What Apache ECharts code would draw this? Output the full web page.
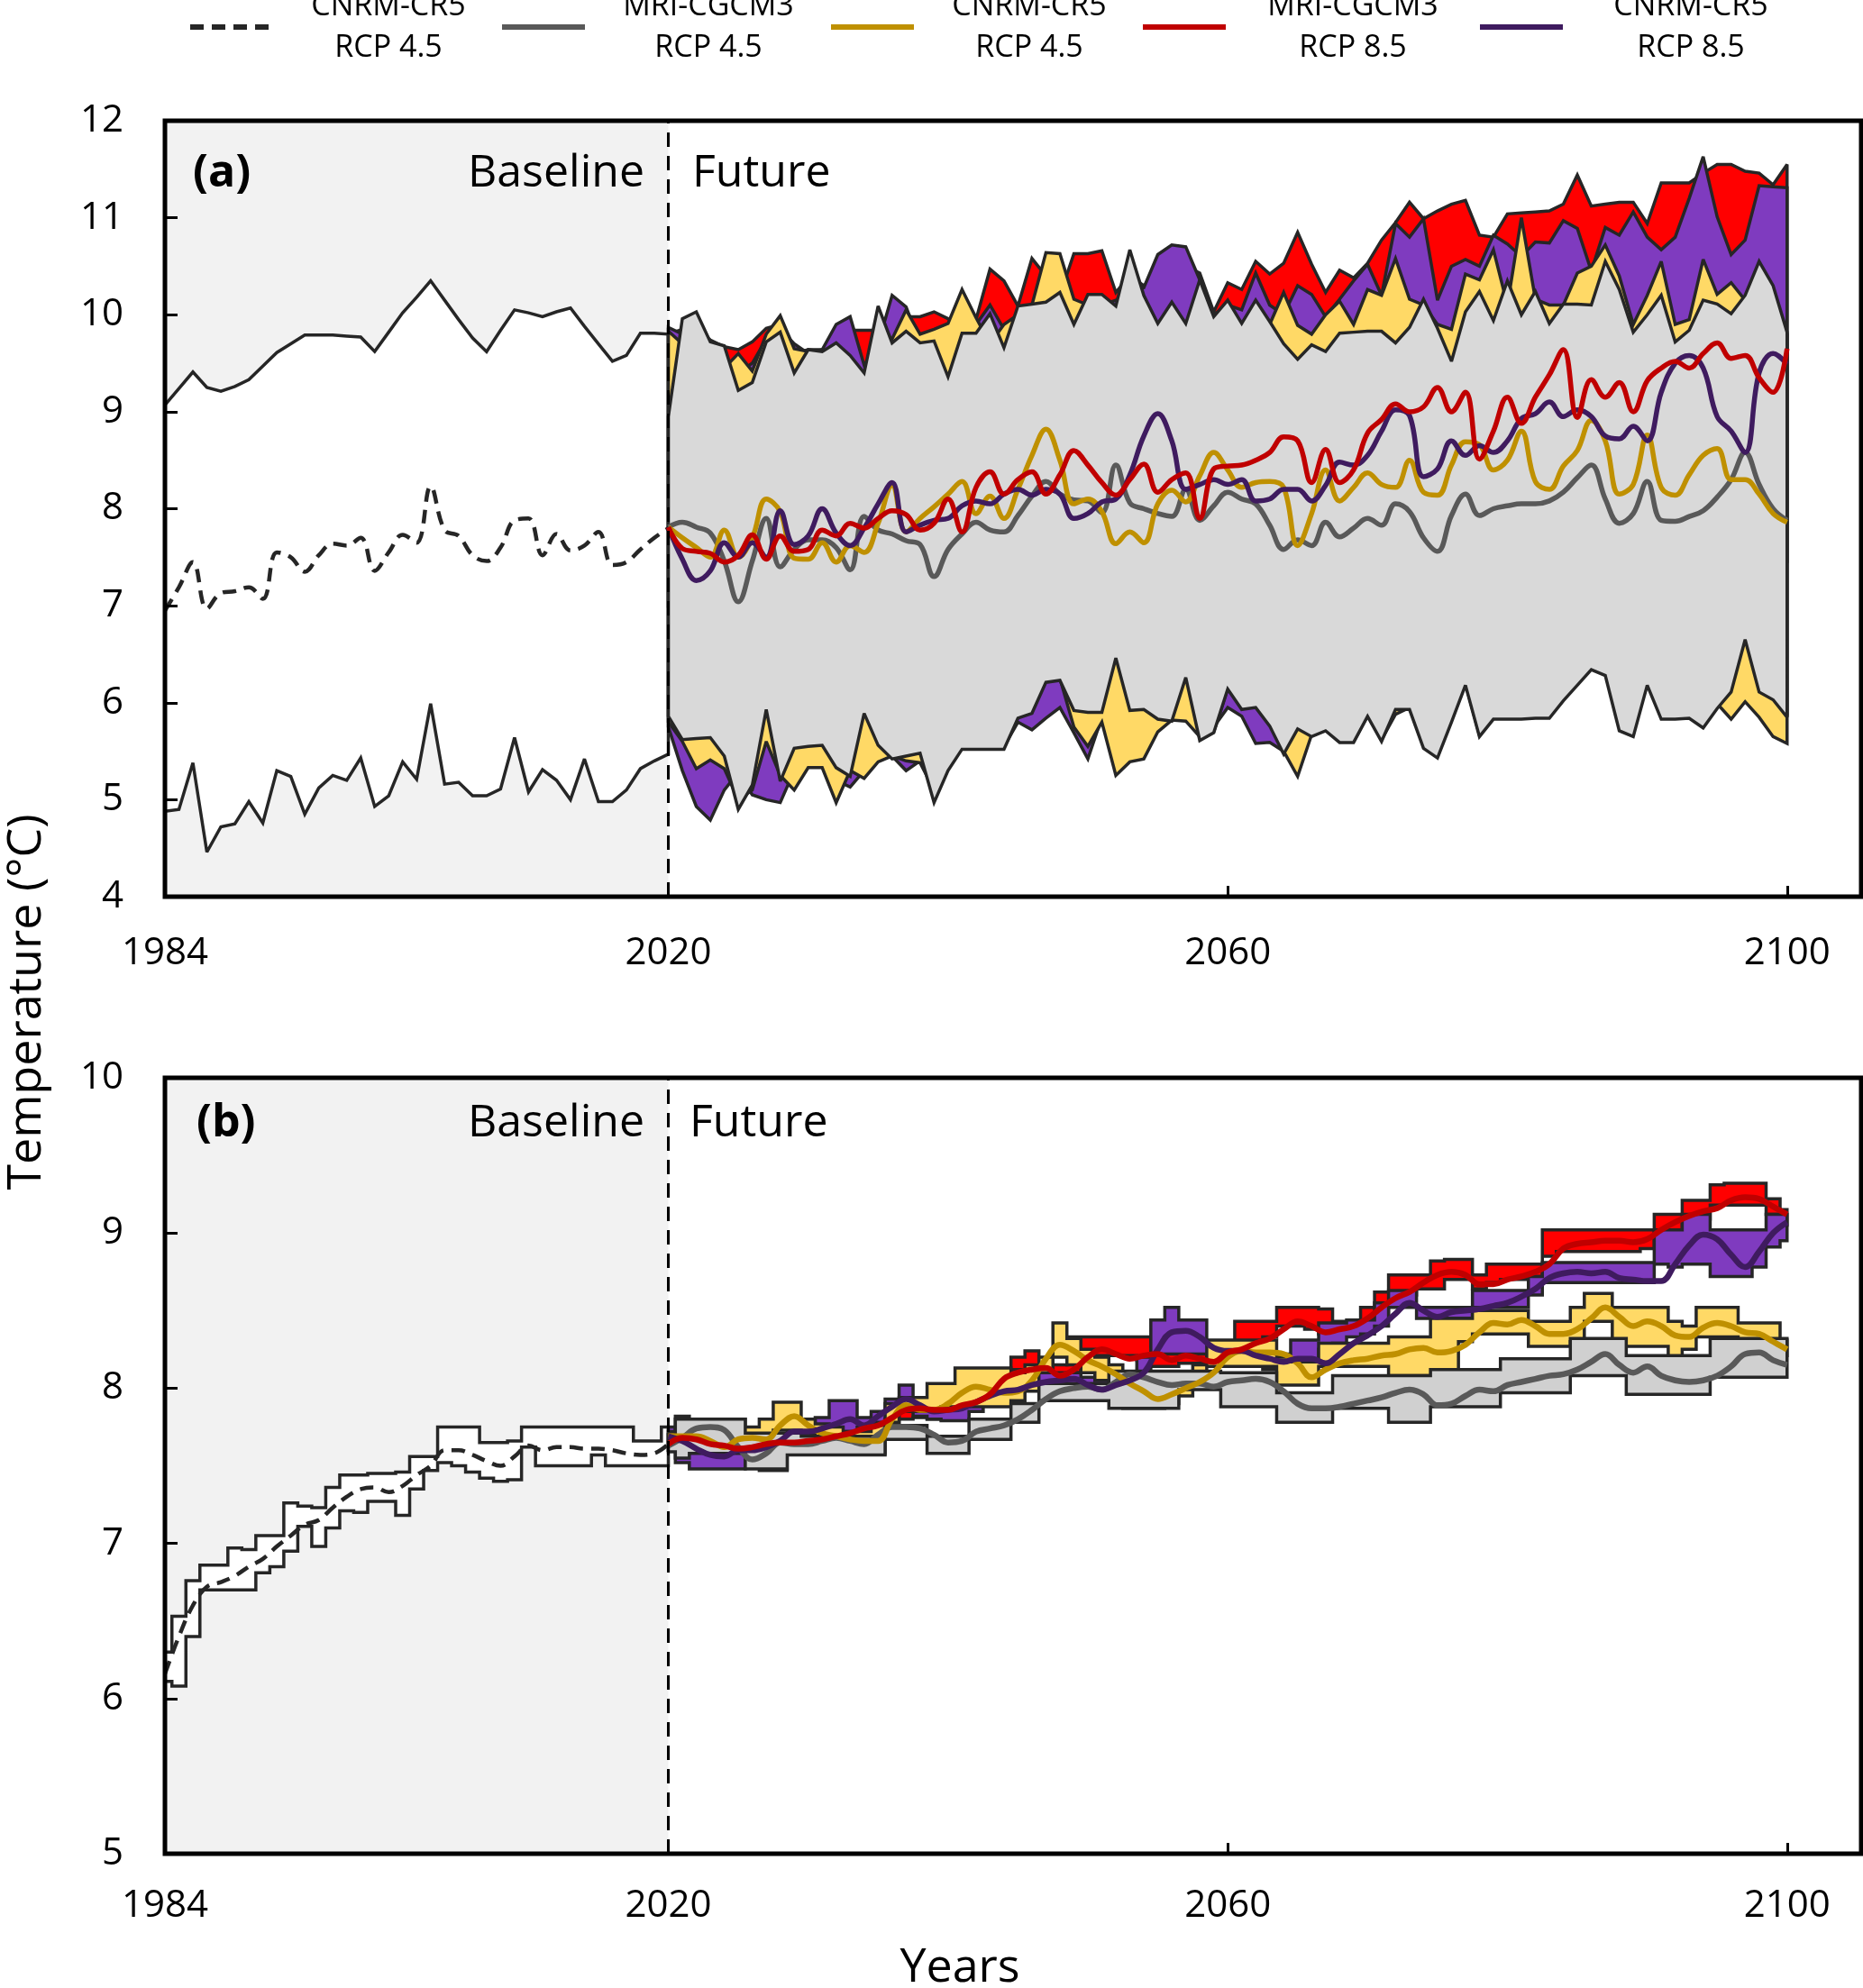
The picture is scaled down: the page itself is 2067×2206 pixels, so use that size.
<!DOCTYPE html>
<html>
<head>
<meta charset="utf-8">
<title>Temperature projections</title>
<script src="https://cdn.jsdelivr.net/npm/echarts@6/dist/echarts.min.js"></script>
<style>
  html, body { margin: 0; padding: 0; background: #ffffff; }
  #chart { width: 2067px; height: 2206px; }
</style>
</head>
<body>
<div id="chart"></div>
<script>
// ---- years ----
var baseYears = [];
for (var y = 1984; y <= 2020; y++) baseYears.push(y);
var futYears = [];
for (var y2 = 2020; y2 <= 2100; y2++) futYears.push(y2);
var tickYears = [1984, 2020, 2060, 2100];

// ---- panel (a): annual values ----
var aBaseMax = [9.07, 9.24, 9.41, 9.25, 9.21, 9.26, 9.33, 9.47, 9.61, 9.70,
  9.79, 9.79, 9.79, 9.78, 9.77, 9.62, 9.82, 10.02, 10.18, 10.35,
  10.15, 9.95, 9.76, 9.62, 9.84, 10.05, 10.02, 9.98, 10.03, 10.07,
  9.88, 9.70, 9.52, 9.58, 9.81, 9.81, 9.80];
var aBaseMean = [6.95, 7.19, 7.45, 6.97, 7.13, 7.15, 7.19, 7.07, 7.55, 7.50,
  7.35, 7.52, 7.64, 7.62, 7.70, 7.36, 7.55, 7.73, 7.65, 8.23,
  7.78, 7.72, 7.52, 7.46, 7.60, 7.88, 7.90, 7.52, 7.74, 7.57,
  7.62, 7.76, 7.42, 7.45, 7.58, 7.70, 7.80];
var aBaseMin = [4.88, 4.90, 5.38, 4.46, 4.72, 4.75, 4.98, 4.76, 5.30, 5.24,
  4.85, 5.12, 5.25, 5.20, 5.43, 4.93, 5.04, 5.39, 5.21, 5.99,
  5.16, 5.18, 5.04, 5.04, 5.11, 5.64, 5.08, 5.31, 5.20, 5.00,
  5.42, 4.98, 4.98, 5.10, 5.32, 5.40, 5.47];

var aGrayMax = [8.95, 9.96, 10.03, 9.72, 9.68, 9.22, 9.30, 9.72, 9.82, 9.40,
  9.64, 9.62, 9.71, 9.58, 9.40, 10.09, 9.71, 9.83, 9.71, 9.73,
  9.36, 9.81, 9.81, 10.01, 9.66, 10.09, 10.11, 10.13, 10.23, 9.90,
  10.21, 10.21, 10.09, 10.67, 10.20, 9.91, 10.13, 9.91, 10.36, 9.98,
  10.15, 9.91, 10.15, 9.93, 9.70, 9.54, 9.69, 9.62, 9.81, 9.82,
  9.83, 9.83, 9.71, 9.87, 10.16, 9.86, 9.52, 10.03, 10.24, 9.94,
  10.35, 10.00, 10.24, 9.91, 10.11, 10.11, 10.10, 10.55, 10.26, 9.82,
  10.00, 10.20, 9.72, 9.84, 10.15, 10.11, 10.01, 10.20, 10.55, 10.30,
  9.82];
var aGrayMin = [5.86, 5.62, 5.63, 5.64, 5.45, 4.90, 5.15, 5.93, 5.19, 5.53,
  5.55, 5.56, 5.33, 5.24, 5.89, 5.56, 5.42, 5.45, 5.48, 4.97,
  5.30, 5.52, 5.52, 5.52, 5.52, 5.84, 5.89, 6.21, 6.23, 5.92,
  5.90, 5.90, 6.46, 5.92, 5.93, 5.83, 5.81, 6.26, 5.61, 5.69,
  6.14, 5.93, 5.95, 5.76, 5.47, 5.73, 5.65, 5.71, 5.59, 5.59,
  5.86, 5.60, 5.93, 5.93, 5.53, 5.43, 5.80, 6.18, 5.65, 5.83,
  5.83, 5.83, 5.84, 5.84, 6.02, 6.18, 6.34, 6.28, 5.71, 5.65,
  6.18, 5.83, 5.83, 5.84, 5.74, 5.94, 6.11, 6.65, 6.11, 6.03,
  5.85];
var aGoldMax = [9.83, 9.70, 9.75, 9.55, 9.45, 9.60, 9.42, 9.80, 9.99, 9.65,
  9.62, 9.60, 9.60, 9.50, 9.35, 9.80, 9.75, 10.05, 9.80, 9.85,
  9.91, 10.26, 9.97, 9.70, 9.90, 10.00, 10.10, 10.64, 10.63, 10.16,
  10.10, 10.00, 10.05, 10.20, 10.10, 9.80, 9.90, 9.85, 10.00, 9.90,
  10.00, 9.90, 10.00, 9.90, 10.23, 9.89, 9.80, 10.00, 10.14, 9.90,
  10.26, 10.20, 10.58, 10.16, 10.10, 9.90, 9.85, 10.42, 10.36, 10.67,
  10.10, 11.00, 10.16, 10.10, 10.10, 10.43, 10.50, 10.72, 10.40, 9.90,
  10.20, 10.55, 9.90, 9.95, 10.57, 10.21, 10.33, 10.15, 10.30, 10.20,
  9.80];
var aGoldMin = [5.80, 5.60, 5.32, 5.41, 5.32, 5.00, 5.10, 5.60, 5.25, 5.10,
  5.33, 5.33, 4.97, 5.30, 5.22, 5.39, 5.45, 5.40, 5.38, 5.10,
  5.35, 5.55, 5.55, 5.55, 5.55, 5.85, 5.95, 6.25, 6.25, 5.75,
  5.55, 5.80, 5.25, 5.39, 5.42, 5.70, 5.82, 5.81, 5.65, 5.70,
  6.15, 5.95, 5.97, 5.78, 5.50, 5.24, 5.67, 5.72, 5.62, 5.60,
  5.87, 5.62, 5.88, 5.95, 5.55, 5.45, 5.82, 6.20, 5.67, 5.85,
  5.88, 5.88, 5.89, 5.89, 6.07, 6.23, 6.39, 6.33, 5.76, 5.70,
  6.23, 5.88, 5.88, 5.89, 5.79, 5.99, 5.83, 6.01, 5.85, 5.65,
  5.58];
var aPurpMax = [9.87, 9.80, 9.80, 9.60, 9.50, 9.40, 9.50, 9.75, 9.85, 9.70,
  9.60, 9.64, 9.90, 9.98, 9.48, 9.70, 10.20, 10.08, 9.70, 9.75,
  9.70, 9.80, 9.90, 10.10, 9.85, 9.90, 10.00, 10.10, 10.10, 10.00,
  10.10, 10.10, 10.15, 10.25, 10.28, 10.62, 10.72, 10.70, 10.36, 10.00,
  10.10, 10.05, 10.43, 10.10, 10.00, 10.30, 10.21, 9.98, 10.16, 10.35,
  10.52, 10.20, 10.94, 10.80, 10.99, 10.15, 10.50, 10.57, 10.50, 10.82,
  10.73, 10.60, 10.75, 10.74, 10.97, 10.89, 10.45, 10.90, 10.82, 11.06,
  10.80, 10.67, 10.80, 11.20, 11.63, 11.01, 10.62, 10.77, 11.33, 11.32,
  11.31];
var aPurpMin = [5.75, 5.30, 4.93, 4.79, 5.10, 5.28, 5.05, 5.00, 4.97, 5.30,
  5.40, 5.40, 5.20, 5.13, 5.30, 5.45, 5.45, 5.30, 5.40, 5.10,
  5.35, 5.55, 5.55, 5.55, 5.55, 5.80, 5.72, 5.84, 5.95, 5.69,
  5.42, 5.85, 5.80, 5.80, 5.85, 5.85, 5.85, 6.00, 5.65, 5.75,
  5.95, 5.86, 5.58, 5.59, 5.50, 5.60, 5.67, 5.75, 5.62, 5.60,
  5.87, 5.62, 5.90, 5.95, 5.55, 5.45, 5.82, 6.20, 5.67, 5.85,
  5.88, 5.88, 5.89, 5.89, 6.07, 6.23, 6.39, 6.33, 5.76, 5.70,
  6.23, 5.88, 5.88, 5.89, 5.79, 5.99, 6.15, 6.70, 6.15, 6.05,
  5.90];
var aRedMax = [9.80, 9.85, 9.85, 9.74, 9.67, 9.64, 9.72, 9.86, 9.90, 9.60,
  9.64, 9.64, 9.70, 9.84, 9.84, 9.84, 10.00, 9.98, 9.98, 10.03,
  9.96, 9.90, 9.95, 10.47, 10.35, 10.09, 10.58, 10.40, 10.20, 10.63,
  10.63, 10.66, 10.23, 10.40, 10.30, 10.40, 10.50, 10.50, 10.43, 10.03,
  10.33, 10.26, 10.55, 10.42, 10.53, 10.85, 10.52, 10.23, 10.46, 10.38,
  10.53, 10.77, 10.95, 11.16, 10.99, 11.07, 11.14, 11.18, 10.82, 10.80,
  11.04, 11.05, 11.06, 11.07, 11.14, 11.44, 11.12, 11.14, 11.16, 11.16,
  10.94, 11.36, 11.36, 11.36, 11.46, 11.55, 11.55, 11.48, 11.46, 11.34,
  11.55];
var aRedMin = [7.00, 7.05, 7.10, 7.05, 7.00, 7.00, 7.05, 7.10, 7.05, 7.00,
  7.05, 7.10, 7.10, 7.05, 7.00, 7.10, 7.15, 7.10, 7.05, 7.10,
  7.15, 7.10, 7.20, 7.20, 7.15, 7.20, 7.25, 7.20, 7.15, 7.20,
  7.25, 7.20, 7.15, 7.20, 7.25, 7.30, 7.25, 7.20, 7.25, 7.30,
  7.30, 7.25, 7.30, 7.35, 7.30, 7.25, 7.30, 7.35, 7.40, 7.35,
  7.30, 7.35, 7.40, 7.35, 7.40, 7.45, 7.40, 7.35, 7.40, 7.45,
  7.50, 7.45, 7.40, 7.45, 7.50, 7.45, 7.40, 7.45, 7.50, 7.45,
  7.50, 7.55, 7.50, 7.45, 7.50, 7.55, 7.50, 7.45, 7.50, 7.48,
  7.46];

var aGrayMean = [7.81, 7.86, 7.81, 7.75, 7.46, 7.04, 7.46, 7.90, 7.40, 7.58,
  7.68, 7.68, 7.60, 7.37, 7.92, 7.78, 7.74, 7.67, 7.63, 7.30,
  7.58, 7.74, 7.86, 7.78, 7.76, 7.93, 8.13, 8.28, 8.15, 8.09,
  8.08, 7.96, 8.45, 8.06, 8.00, 7.95, 7.92, 8.20, 7.88, 8.03,
  8.17, 8.10, 8.05, 7.83, 7.58, 7.68, 7.62, 7.86, 7.71, 7.80,
  7.90, 7.83, 8.05, 7.97, 7.70, 7.56, 7.93, 8.15, 7.93, 8.00,
  8.03, 8.05, 8.05, 8.08, 8.17, 8.32, 8.45, 8.10, 7.85, 7.95,
  8.28, 7.88, 7.87, 7.92, 7.98, 8.12, 8.30, 8.58, 8.25, 8.00,
  7.88];
var aGoldMean = [7.81, 7.70, 7.60, 7.50, 7.78, 7.50, 7.70, 8.10, 7.97, 7.49,
  7.48, 7.65, 7.45, 7.62, 7.55, 7.85, 8.24, 7.76, 7.90, 8.02,
  8.15, 8.28, 7.95, 8.13, 7.90, 8.20, 8.55, 8.82, 8.50, 8.05,
  8.10, 7.97, 7.64, 7.76, 7.65, 8.05, 8.19, 8.07, 8.34, 8.58,
  8.40, 8.22, 8.27, 8.28, 8.22, 7.62, 7.95, 8.40, 8.08, 8.22,
  8.37, 8.25, 8.22, 8.50, 8.17, 8.14, 8.45, 8.69, 8.66, 8.40,
  8.50, 8.80, 8.28, 8.20, 8.44, 8.60, 8.91, 8.70, 8.15, 8.25,
  8.76, 8.22, 8.14, 8.35, 8.55, 8.62, 8.30, 8.30, 8.15, 7.95,
  7.86];
var aPurpMean = [7.81, 7.48, 7.26, 7.36, 7.65, 7.50, 7.65, 7.50, 7.98, 7.63,
  7.72, 8.00, 7.75, 7.62, 7.80, 8.05, 8.27, 7.76, 7.83, 7.88,
  7.90, 8.03, 8.08, 8.05, 8.15, 8.20, 8.14, 8.20, 8.15, 7.90,
  7.95, 8.07, 8.10, 8.35, 8.75, 8.98, 8.70, 8.20, 8.25, 8.30,
  8.25, 8.30, 8.08, 8.10, 8.20, 8.20, 8.08, 8.24, 8.48, 8.45,
  8.55, 8.80, 9.02, 8.96, 8.33, 8.41, 8.70, 8.55, 8.65, 8.58,
  8.70, 8.93, 8.98, 9.10, 8.95, 9.02, 8.95, 8.75, 8.72, 8.85,
  8.70, 9.20, 9.50, 9.58, 9.45, 8.95, 8.80, 8.58, 9.40, 9.60,
  9.49];
var aRedMean = [7.81, 7.59, 7.56, 7.54, 7.45, 7.52, 7.73, 7.48, 7.72, 7.56,
  7.58, 7.78, 7.72, 7.85, 7.80, 7.90, 7.98, 7.94, 7.78, 7.85,
  8.10, 7.76, 8.22, 8.38, 8.15, 8.30, 8.38, 8.15, 8.35, 8.60,
  8.45, 8.27, 8.14, 8.30, 8.46, 8.17, 8.30, 8.37, 7.90, 8.41,
  8.44, 8.45, 8.50, 8.58, 8.74, 8.70, 8.27, 8.61, 8.27, 8.40,
  8.78, 8.92, 9.08, 9.00, 9.05, 9.25, 9.00, 9.20, 8.51, 8.80,
  9.15, 8.88, 9.15, 9.38, 9.64, 8.94, 9.33, 9.15, 9.30, 9.00,
  9.32, 9.45, 9.52, 9.45, 9.60, 9.71, 9.55, 9.58, 9.35, 9.20,
  9.65];

// ---- panel (b): moving values ----
var bBaseMax = [6.30, 6.53, 6.76, 6.86, 6.86, 6.97, 6.96, 7.05, 7.05, 7.26,
  7.24, 7.23, 7.36, 7.44, 7.44, 7.45, 7.45, 7.46, 7.56, 7.56,
  7.75, 7.75, 7.75, 7.65, 7.65, 7.66, 7.75, 7.75, 7.75, 7.75,
  7.75, 7.75, 7.75, 7.75, 7.66, 7.66, 7.75];
var bBaseMean = [6.16, 6.40, 6.60, 6.72, 6.75, 6.79, 6.85, 6.90, 6.98, 7.05,
  7.12, 7.15, 7.23, 7.30, 7.35, 7.36, 7.33, 7.37, 7.44, 7.50,
  7.60, 7.60, 7.57, 7.53, 7.50, 7.56, 7.63, 7.60, 7.62, 7.62,
  7.61, 7.61, 7.60, 7.58, 7.57, 7.58, 7.64];
var bBaseMin = [6.11, 6.08, 6.40, 6.70, 6.70, 6.70, 6.70, 6.81, 6.85, 6.95,
  7.11, 6.98, 7.10, 7.21, 7.20, 7.27, 7.27, 7.18, 7.35, 7.47,
  7.52, 7.50, 7.46, 7.42, 7.40, 7.41, 7.62, 7.50, 7.50, 7.50,
  7.50, 7.57, 7.50, 7.50, 7.50, 7.50, 7.50];

var bGrayMax = [7.70, 7.80, 7.80, 7.80, 7.80, 7.80, 7.71, 7.71, 7.71, 7.71,
  7.69, 7.69, 7.69, 7.69, 7.69, 7.69, 7.76, 7.76, 7.76, 7.69,
  7.69, 7.69, 7.80, 7.80, 7.80, 7.90, 7.90, 8.03, 8.03, 8.03,
  8.03, 8.03, 8.11, 8.11, 8.11, 8.11, 8.11, 8.11, 8.11, 8.11,
  8.10, 8.10, 8.10, 8.10, 7.97, 7.97, 7.97, 7.97, 8.08, 8.08,
  8.08, 8.08, 8.08, 8.08, 8.08, 8.12, 8.12, 8.12, 8.12, 8.12,
  8.19, 8.19, 8.19, 8.19, 8.19, 8.32, 8.32, 8.32, 8.32, 8.21,
  8.21, 8.21, 8.21, 8.21, 8.21, 8.32, 8.32, 8.32, 8.32, 8.32,
  8.32];
var bGrayMin = [7.59, 7.55, 7.58, 7.58, 7.58, 7.58, 7.48, 7.48, 7.48, 7.57,
  7.57, 7.57, 7.57, 7.57, 7.57, 7.57, 7.67, 7.67, 7.67, 7.58,
  7.58, 7.58, 7.67, 7.67, 7.67, 7.78, 7.78, 7.92, 7.92, 7.92,
  7.92, 7.92, 7.87, 7.87, 7.87, 7.87, 7.87, 7.99, 7.99, 7.99,
  7.88, 7.88, 7.88, 7.88, 7.78, 7.78, 7.78, 7.78, 7.87, 7.87,
  7.87, 7.87, 7.78, 7.78, 7.78, 7.88, 7.88, 7.88, 7.88, 7.88,
  7.97, 7.97, 7.97, 7.97, 7.97, 8.08, 8.08, 8.08, 8.08, 7.96,
  7.96, 7.96, 7.96, 7.96, 7.96, 8.07, 8.07, 8.07, 8.07, 8.07,
  8.07];
var bGoldMax = [7.72, 7.82, 7.75, 7.72, 7.72, 7.80, 7.75, 7.80, 7.91, 7.91,
  7.80, 7.77, 7.75, 7.72, 7.72, 7.76, 7.90, 7.94, 7.94, 8.03,
  8.03, 8.13, 8.13, 8.13, 8.13, 8.10, 8.15, 8.20, 8.42, 8.32,
  8.25, 8.20, 8.15, 8.10, 8.05, 8.00, 8.02, 8.08, 8.15, 8.31,
  8.31, 8.31, 8.31, 8.31, 8.20, 8.17, 8.17, 8.29, 8.29, 8.29,
  8.29, 8.29, 8.33, 8.33, 8.33, 8.45, 8.45, 8.45, 8.50, 8.50,
  8.50, 8.50, 8.43, 8.43, 8.43, 8.52, 8.61, 8.61, 8.52, 8.52,
  8.52, 8.52, 8.43, 8.40, 8.52, 8.52, 8.52, 8.42, 8.42, 8.42,
  8.31];
var bGoldMin = [7.62, 7.60, 7.60, 7.59, 7.59, 7.59, 7.62, 7.65, 7.73, 7.73,
  7.70, 7.66, 7.62, 7.60, 7.60, 7.58, 7.78, 7.85, 7.85, 7.85,
  7.88, 7.88, 7.88, 7.88, 7.88, 7.92, 7.98, 8.10, 8.20, 8.15,
  8.10, 8.05, 8.00, 7.87, 7.87, 7.87, 7.90, 7.95, 8.00, 8.14,
  8.14, 8.14, 8.14, 8.14, 8.02, 8.02, 8.02, 8.14, 8.14, 8.14,
  8.14, 8.14, 8.08, 8.08, 8.08, 8.08, 8.08, 8.30, 8.35, 8.35,
  8.35, 8.35, 8.27, 8.27, 8.27, 8.30, 8.43, 8.43, 8.27, 8.27,
  8.27, 8.27, 8.18, 8.25, 8.33, 8.33, 8.33, 8.26, 8.26, 8.26,
  8.21];
var bPurpMax = [7.75, 7.72, 7.60, 7.60, 7.60, 7.60, 7.65, 7.68, 7.70, 7.75,
  7.78, 7.81, 7.92, 7.92, 7.81, 7.85, 7.93, 8.02, 7.92, 7.90,
  7.88, 7.88, 7.95, 8.00, 8.05, 8.12, 8.12, 8.10, 8.10, 8.10,
  8.07, 8.05, 8.07, 8.10, 8.20, 8.44, 8.52, 8.44, 8.44, 8.29,
  8.29, 8.28, 8.25, 8.22, 8.22, 8.31, 8.31, 8.42, 8.42, 8.44,
  8.44, 8.55, 8.63, 8.63, 8.52, 8.52, 8.52, 8.52, 8.63, 8.63,
  8.63, 8.63, 8.72, 8.81, 8.81, 8.81, 8.81, 8.81, 8.81, 8.81,
  8.81, 9.02, 9.02, 9.12, 9.12, 9.02, 9.02, 9.02, 9.02, 9.12,
  9.12];
var bPurpMin = [7.60, 7.52, 7.48, 7.48, 7.48, 7.48, 7.55, 7.47, 7.47, 7.62,
  7.65, 7.71, 7.72, 7.72, 7.75, 7.78, 7.80, 7.85, 7.82, 7.80,
  7.79, 7.79, 7.85, 7.90, 7.95, 8.00, 8.02, 8.00, 8.00, 8.00,
  7.97, 7.95, 7.97, 8.00, 8.05, 8.22, 8.22, 8.22, 8.22, 8.20,
  8.20, 8.18, 8.15, 8.12, 8.12, 8.14, 8.14, 8.25, 8.29, 8.33,
  8.35, 8.40, 8.52, 8.52, 8.45, 8.45, 8.45, 8.45, 8.52, 8.52,
  8.52, 8.52, 8.60, 8.68, 8.68, 8.68, 8.68, 8.68, 8.68, 8.68,
  8.68, 8.80, 8.78, 8.80, 8.80, 8.72, 8.72, 8.72, 8.78, 8.91,
  8.95];
var bRedMax = [7.70, 7.72, 7.72, 7.70, 7.68, 7.66, 7.67, 7.69, 7.70, 7.70,
  7.71, 7.72, 7.74, 7.76, 7.79, 7.81, 7.86, 7.90, 7.91, 7.90,
  7.90, 7.93, 7.95, 8.00, 8.10, 8.20, 8.24, 8.18, 8.15, 8.33,
  8.33, 8.33, 8.33, 8.33, 8.33, 8.27, 8.27, 8.24, 8.24, 8.24,
  8.30, 8.43, 8.43, 8.43, 8.52, 8.52, 8.52, 8.51, 8.43, 8.43,
  8.52, 8.62, 8.73, 8.73, 8.73, 8.82, 8.83, 8.83, 8.73, 8.80,
  8.80, 8.80, 8.80, 9.02, 9.02, 9.02, 9.02, 9.02, 9.02, 9.02,
  9.02, 9.12, 9.12, 9.21, 9.21, 9.31, 9.32, 9.32, 9.32, 9.22,
  9.15];
var bRedMin = [7.60, 7.62, 7.62, 7.60, 7.58, 7.56, 7.57, 7.59, 7.60, 7.60,
  7.61, 7.62, 7.64, 7.66, 7.69, 7.71, 7.76, 7.80, 7.81, 7.80,
  7.80, 7.83, 7.85, 7.90, 7.98, 8.05, 8.12, 8.05, 8.02, 8.10,
  8.21, 8.21, 8.21, 8.21, 8.18, 8.14, 8.14, 8.16, 8.16, 8.16,
  8.20, 8.25, 8.30, 8.33, 8.40, 8.40, 8.38, 8.35, 8.35, 8.35,
  8.40, 8.45, 8.55, 8.60, 8.64, 8.64, 8.70, 8.70, 8.64, 8.68,
  8.70, 8.70, 8.72, 8.85, 8.88, 8.88, 8.88, 8.88, 8.88, 8.88,
  8.90, 9.02, 9.02, 9.09, 9.09, 9.18, 9.18, 9.18, 9.18, 9.12,
  9.05];

var bGrayMean = [7.63, 7.68, 7.74, 7.75, 7.73, 7.62, 7.54, 7.58, 7.65, 7.64,
  7.64, 7.66, 7.68, 7.66, 7.64, 7.70, 7.75, 7.75, 7.74, 7.70,
  7.65, 7.66, 7.72, 7.74, 7.76, 7.80, 7.86, 7.93, 7.98, 8.00,
  8.01, 7.99, 8.04, 8.09, 8.07, 8.04, 8.02, 8.03, 8.03, 8.01,
  8.04, 8.05, 8.06, 8.04, 7.98, 7.90, 7.87, 7.87, 7.88, 7.90,
  7.92, 7.94, 7.97, 7.99, 7.96, 7.89, 7.90, 7.95, 7.99, 7.98,
  8.02, 8.04, 8.06, 8.08, 8.09, 8.12, 8.17, 8.22, 8.15, 8.10,
  8.14, 8.08, 8.05, 8.04, 8.05, 8.08, 8.14, 8.22, 8.23, 8.18,
  8.15];
var bGoldMean = [7.69, 7.69, 7.69, 7.66, 7.62, 7.67, 7.68, 7.67, 7.76, 7.82,
  7.76, 7.71, 7.69, 7.67, 7.66, 7.66, 7.80, 7.89, 7.86, 7.86,
  7.90, 7.97, 8.01, 7.99, 7.97, 7.98, 8.05, 8.19, 8.28, 8.24,
  8.18, 8.14, 8.09, 8.03, 7.98, 7.93, 7.96, 8.00, 8.04, 8.10,
  8.20, 8.24, 8.23, 8.23, 8.22, 8.16, 8.07, 8.12, 8.16, 8.18,
  8.19, 8.21, 8.22, 8.25, 8.26, 8.23, 8.24, 8.28, 8.36, 8.42,
  8.41, 8.44, 8.40, 8.35, 8.35, 8.38, 8.45, 8.52, 8.46, 8.40,
  8.43, 8.40, 8.34, 8.33, 8.39, 8.42, 8.40, 8.36, 8.35, 8.30,
  8.25];
var bPurpMean = [7.69, 7.66, 7.61, 7.57, 7.56, 7.60, 7.60, 7.62, 7.66, 7.72,
  7.72, 7.74, 7.77, 7.80, 7.76, 7.82, 7.88, 7.93, 7.89, 7.85,
  7.86, 7.87, 7.91, 7.95, 7.98, 7.99, 8.02, 8.04, 8.05, 8.06,
  8.02, 7.99, 8.02, 8.05, 8.10, 8.25, 8.36, 8.37, 8.33, 8.26,
  8.24, 8.24, 8.21, 8.19, 8.17, 8.19, 8.19, 8.16, 8.22, 8.29,
  8.34, 8.40, 8.48, 8.55, 8.50, 8.46, 8.49, 8.50, 8.51, 8.53,
  8.55, 8.59, 8.64, 8.71, 8.74, 8.75, 8.74, 8.75, 8.71, 8.70,
  8.69, 8.69, 8.80, 8.92, 8.99, 8.96, 8.86, 8.78, 8.88, 9.00,
  9.07];
var bRedMean = [7.64, 7.68, 7.67, 7.64, 7.63, 7.61, 7.62, 7.64, 7.65, 7.65,
  7.66, 7.67, 7.69, 7.71, 7.74, 7.76, 7.81, 7.86, 7.87, 7.86,
  7.86, 7.89, 7.91, 7.96, 8.06, 8.10, 8.12, 8.13, 8.08, 8.12,
  8.20, 8.25, 8.22, 8.19, 8.21, 8.22, 8.18, 8.21, 8.19, 8.17,
  8.23, 8.25, 8.29, 8.32, 8.38, 8.43, 8.40, 8.36, 8.38, 8.40,
  8.45, 8.52, 8.58, 8.62, 8.68, 8.73, 8.75, 8.73, 8.67, 8.67,
  8.70, 8.72, 8.75, 8.80, 8.90, 8.93, 8.94, 8.95, 8.95, 8.94,
  8.96, 9.02, 9.07, 9.11, 9.14, 9.16, 9.21, 9.23, 9.22, 9.17,
  9.12];

// ---- legend labels ----
var legendNames = ['obs', 'mri45', 'cnrm45', 'mri85', 'cnrm85'];
var legendLabels = [['CNRM-CR5', 'RCP 4.5'], ['MRI-CGCM3', 'RCP 4.5'], ['CNRM-CR5', 'RCP 4.5'],
  ['MRI-CGCM3', 'RCP 8.5'], ['CNRM-CR5', 'RCP 8.5']];

var FONT = 'Open Sans';
var EDGE = '#262626';

function xy(xs, ys) {
  return xs.map(function (x, i) { return [x, ys[i]]; });
}

// polygon band from lower/upper arrays, drawn through the axis scales
function band(g, xs, lo, hi, fill, stepped) {
  return {
    type: 'custom',
    xAxisIndex: g,
    yAxisIndex: g,
    silent: true,
    clip: true,
    data: [[xs[0], lo[0]]],
    renderItem: function (params, api) {
      var top = [], bot = [];
      for (var i = 0; i < xs.length; i++) {
        if (stepped) {
          var x0 = i === 0 ? xs[i] : xs[i] - 0.5;
          var x1 = i === xs.length - 1 ? xs[i] : xs[i] + 0.5;
          top.push(api.coord([x0, hi[i]]), api.coord([x1, hi[i]]));
          bot.push(api.coord([x0, lo[i]]), api.coord([x1, lo[i]]));
        } else {
          top.push(api.coord([xs[i], hi[i]]));
          bot.push(api.coord([xs[i], lo[i]]));
        }
      }
      return {
        type: 'polygon',
        shape: { points: top.concat(bot.reverse()) },
        style: { fill: fill, stroke: EDGE, lineWidth: 3.5, lineJoin: 'miter', miterLimit: 3 }
      };
    }
  };
}

function curve(g, name, xs, ys, color, width, dashed) {
  return {
    type: 'line',
    name: name,
    xAxisIndex: g,
    yAxisIndex: g,
    data: xy(xs, ys),
    smooth: 0.4,
    symbol: 'none',
    silent: true,
    lineStyle: { color: color, width: width, type: dashed ? [15, 9] : 'solid' },
    itemStyle: { color: color }
  };
}

function periodMarks(s) {
  s.markArea = {
    silent: true,
    itemStyle: { color: '#f2f2f2' },
    data: [[{ xAxis: baseYears[0] }, { xAxis: baseYears[baseYears.length - 1] }]]
  };
  s.markLine = {
    silent: true,
    symbol: 'none',
    label: { show: false },
    lineStyle: { color: '#000', type: [16, 10], width: 3 },
    data: [{ xAxis: baseYears[baseYears.length - 1] }]
  };
  return s;
}

var series = [
  // panel (a)
  band(0, baseYears, aBaseMin, aBaseMax, '#ffffff', false),
  band(0, futYears, aRedMin, aRedMax, '#ff0000', false),
  band(0, futYears, aPurpMin, aPurpMax, '#7f3bbf', false),
  band(0, futYears, aGoldMin, aGoldMax, '#ffd966', false),
  band(0, futYears, aGrayMin, aGrayMax, '#d9d9d9', false),
  periodMarks(curve(0, 'obs', baseYears, aBaseMean, '#262626', 4.5, true)),
  curve(0, 'mri45', futYears, aGrayMean, '#595959', 5.5),
  curve(0, 'cnrm45', futYears, aGoldMean, '#bf9000', 5.5),
  curve(0, 'cnrm85', futYears, aPurpMean, '#3f1b5f', 5.5),
  curve(0, 'mri85', futYears, aRedMean, '#c00000', 5.5),
  // panel (b)
  band(1, baseYears, bBaseMin, bBaseMax, '#ffffff', true),
  band(1, futYears, bRedMin, bRedMax, '#ff0000', true),
  band(1, futYears, bPurpMin, bPurpMax, '#7f3bbf', true),
  band(1, futYears, bGoldMin, bGoldMax, '#ffd966', true),
  band(1, futYears, bGrayMin, bGrayMax, '#d0d0d0', true),
  periodMarks(curve(1, 'obs', baseYears, bBaseMean, '#262626', 4.5, true)),
  curve(1, 'mri45', futYears, bGrayMean, '#595959', 6.5),
  curve(1, 'cnrm45', futYears, bGoldMean, '#bf9000', 6.5),
  curve(1, 'cnrm85', futYears, bPurpMean, '#3f1b5f', 6.5),
  curve(1, 'mri85', futYears, bRedMean, '#c00000', 6.5)
];

var legendLeft = [208, 554, 919, 1265, 1639];
var legendBox = [246, 264, 246, 272, 274];
var legends = legendNames.map(function (n, i) {
  return {
    data: [n],
    left: legendLeft[i],
    top: -10,
    padding: 0,
    itemWidth: 92,
    itemHeight: 14,
    selectedMode: false,
    itemStyle: { opacity: 0, borderWidth: 0 },
    lineStyle: { width: 6 },
    formatter: function () {
      return '{t|' + legendLabels[i][0] + '}\n{t|' + legendLabels[i][1] + '}';
    },
    textStyle: {
      rich: { t: { width: legendBox[i], align: 'center', fontSize: 34, lineHeight: 46,
        fontFamily: FONT, color: '#000' } }
    }
  };
});

function xAxisFor(g, margin) {
  return {
    type: 'value', gridIndex: g, min: 1984, max: 2105.3, z: 10,
    axisLine: { show: false },
    splitLine: { show: false },
    axisTick: { inside: true, length: 12, customValues: tickYears, lineStyle: { color: '#000', width: 3 } },
    axisLabel: { customValues: tickYears, fontSize: 42, color: '#000', margin: margin, fontFamily: FONT,
      formatter: function (v) { return String(v); } }
  };
}
function yAxisFor(g, min, max) {
  return {
    type: 'value', gridIndex: g, min: min, max: max, interval: 1, z: 10,
    axisLine: { show: false },
    splitLine: { show: false },
    axisTick: { inside: true, length: 14, lineStyle: { color: '#000', width: 3 } },
    axisLabel: { fontSize: 42, color: '#000', margin: 46, fontFamily: FONT }
  };
}

function txt(x, y, s, size, align, bold, rot) {
  return {
    type: 'text', x: x, y: y, rotation: rot || 0, z: 20, silent: true,
    style: { text: s, fontSize: size, fontFamily: FONT, fontWeight: bold ? 'bold' : 'normal',
      fill: '#000', align: align, verticalAlign: 'middle' }
  };
}

var option = {
  backgroundColor: '#ffffff',
  animation: false,
  textStyle: { fontFamily: FONT },
  legend: legends,
  grid: [
    { left: 183, top: 134, width: 1882, height: 861, show: true, z: 10,
      borderColor: '#000', borderWidth: 5, backgroundColor: 'rgba(0,0,0,0)' },
    { left: 183, top: 1196, width: 1882, height: 861, show: true, z: 10,
      borderColor: '#000', borderWidth: 5, backgroundColor: 'rgba(0,0,0,0)' }
  ],
  xAxis: [xAxisFor(0, 42), xAxisFor(1, 37)],
  yAxis: [yAxisFor(0, 4, 12), yAxisFor(1, 5, 10)],
  graphic: [
    txt(214, 193, '(a)', 50, 'left', true),
    txt(715, 193, 'Baseline', 50, 'right'),
    txt(768, 193, 'Future', 50, 'left'),
    txt(218, 1247, '(b)', 50, 'left', true),
    txt(715, 1247, 'Baseline', 50, 'right'),
    txt(765, 1247, 'Future', 50, 'left'),
    txt(30, 1112, 'Temperature (°C)', 52, 'center', false, Math.PI / 2),
    txt(1065, 2184, 'Years', 52, 'center')
  ],
  series: series
};

var chart = echarts.init(document.getElementById('chart'));
chart.setOption(option);
</script>
</body>
</html>
